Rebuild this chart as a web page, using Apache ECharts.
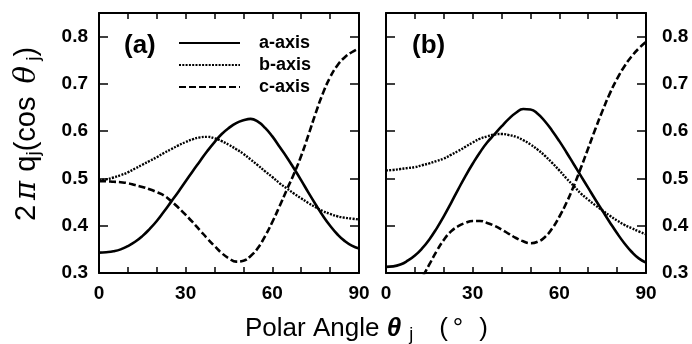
<!DOCTYPE html>
<html>
<head>
<meta charset="utf-8">
<script src="https://cdn.jsdelivr.net/npm/echarts@6/dist/echarts.min.js"></script>
<style>
  body { margin: 0; padding: 0; background: #fff; }
  #chart { width: 692px; height: 344px; }
</style>
</head>
<body>
<div id="chart"></div>
<script>
  // polar angle (deg)
  const theta = [0, 2.5, 5, 7.5, 10, 12.5, 15, 17.5, 20, 22.5, 25, 27.5, 30, 32.5, 35, 37.5, 40, 42.5, 45,
                 47.5, 50, 52.5, 55, 57.5, 60, 62.5, 65, 67.5, 70, 72.5, 75, 77.5, 80, 82.5, 85, 87.5, 90];

  // panel (a)
  const aAxisA = [0.343, 0.344, 0.346, 0.35, 0.357, 0.366, 0.378, 0.393, 0.41, 0.43, 0.451, 0.472, 0.494, 0.516, 0.537, 0.558, 0.577, 0.594, 0.607,
                  0.617, 0.623, 0.626, 0.62, 0.607, 0.589, 0.567, 0.545, 0.521, 0.496, 0.47, 0.445, 0.421, 0.4, 0.382, 0.368, 0.358, 0.352];
  const bAxisA = [0.496, 0.498, 0.502, 0.507, 0.513, 0.521, 0.529, 0.537, 0.545, 0.554, 0.562, 0.57, 0.577, 0.583, 0.587, 0.588, 0.585, 0.579, 0.571,
                  0.562, 0.552, 0.54, 0.528, 0.515, 0.503, 0.49, 0.479, 0.468, 0.458, 0.448, 0.439, 0.431, 0.425, 0.42, 0.417, 0.415, 0.413];
  const cAxisA = [0.494, 0.494, 0.493, 0.492, 0.49, 0.486, 0.482, 0.477, 0.471, 0.464, 0.452, 0.438, 0.423, 0.407, 0.39, 0.373, 0.357, 0.342, 0.331,
                  0.324, 0.326, 0.336, 0.353, 0.378, 0.408, 0.441, 0.476, 0.51, 0.548, 0.592, 0.638, 0.68, 0.714, 0.739, 0.756, 0.767, 0.775];

  // panel (b)
  const aAxisB = [0.313, 0.314, 0.318, 0.326, 0.337, 0.352, 0.371, 0.394, 0.42, 0.448, 0.477, 0.505, 0.531, 0.555, 0.576, 0.593, 0.61, 0.626, 0.639,
                  0.647, 0.646, 0.637, 0.621, 0.601, 0.579, 0.555, 0.53, 0.505, 0.48, 0.455, 0.431, 0.407, 0.384, 0.363, 0.345, 0.331, 0.322];
  const bAxisB = [0.517, 0.518, 0.52, 0.522, 0.524, 0.528, 0.532, 0.537, 0.542, 0.55, 0.558, 0.567, 0.576, 0.584, 0.589, 0.593, 0.594, 0.592, 0.588,
                  0.581, 0.572, 0.561, 0.548, 0.533, 0.517, 0.5, 0.484, 0.468, 0.455, 0.443, 0.432, 0.421, 0.411, 0.402, 0.395, 0.388, 0.382];
  const cAxisB = [0.17, 0.19, 0.21, 0.235, 0.262, 0.29, 0.318, 0.346, 0.37, 0.388, 0.399, 0.406, 0.41, 0.41, 0.406, 0.4, 0.392, 0.383, 0.374,
                  0.367, 0.363, 0.366, 0.376, 0.394, 0.419, 0.449, 0.484, 0.523, 0.564, 0.605, 0.644, 0.68, 0.711, 0.737, 0.758, 0.775, 0.789];

  const xTickLabels = [0, 30, 60, 90];
  const yTickLabels = [0.3, 0.4, 0.5, 0.6, 0.7, 0.8];

  const FONT = '"Liberation Sans", Arial, sans-serif';
  const pairs = ys => theta.map((t, i) => [t, ys[i]]);

  const lineStyles = {
    'a-axis': { type: 'solid', width: 2.6 },
    'b-axis': { type: [2, 1.3], width: 2.4 },
    'c-axis': { type: [7, 3], width: 2.6 }
  };

  function xAxisFor(grid, pos, showLabel) {
    return {
      type: 'value', gridIndex: grid, position: pos, min: 0, max: 90, interval: 10,
      axisLine: { show: true, onZero: false, lineStyle: { color: '#000', width: 2 } },
      axisTick: { show: true, inside: true, length: 6, lineStyle: { color: '#000', width: 1.5 } },
      axisLabel: {
        show: showLabel, margin: 11, color: '#000', fontSize: 19, fontWeight: 'bold', fontFamily: FONT,
        formatter: v => xTickLabels.includes(v) ? String(v) : ''
      },
      splitLine: { show: false }
    };
  }

  function yAxisFor(grid, pos, showLabel, margin) {
    return {
      type: 'value', gridIndex: grid, position: pos, min: 0.3, max: 0.85, interval: 0.1,
      axisLine: { show: true, onZero: false, lineStyle: { color: '#000', width: 2 } },
      axisTick: { show: true, inside: true, length: 9, lineStyle: { color: '#000', width: 1.5 } },
      axisLabel: {
        show: showLabel, margin: margin, color: '#000', fontSize: 19, fontWeight: 'bold', fontFamily: FONT,
        formatter: v => {
          const hit = yTickLabels.find(t => Math.abs(t - v) < 1e-6);
          return hit !== undefined ? hit.toFixed(1) : '';
        }
      },
      splitLine: { show: false }
    };
  }

  function line(name, ys, xi, yi) {
    return {
      name: name, type: 'line', xAxisIndex: xi, yAxisIndex: yi,
      data: pairs(ys), smooth: true, symbol: 'none', clip: true,
      lineStyle: Object.assign({ color: '#000' }, lineStyles[name]),
      itemStyle: { color: '#000' }
    };
  }

  const chart = echarts.init(document.getElementById('chart'), null, { renderer: 'canvas' });

  chart.setOption({
    animation: false,
    backgroundColor: '#fff',
    grid: [
      { left: 99, top: 13, width: 260, height: 260 },
      { left: 386, top: 13, width: 260, height: 260 }
    ],
    xAxis: [
      xAxisFor(0, 'bottom', true), xAxisFor(0, 'top', false),
      xAxisFor(1, 'bottom', true), xAxisFor(1, 'top', false)
    ],
    yAxis: [
      yAxisFor(0, 'left', true, 11), yAxisFor(0, 'right', false, 6),
      yAxisFor(1, 'left', false, 6), yAxisFor(1, 'right', true, 16)
    ],
    legend: {
      orient: 'vertical', left: 178, top: 34, padding: 0,
      itemWidth: 61, itemHeight: 14, itemGap: 4,
      data: ['a-axis', 'b-axis', 'c-axis'],
      itemStyle: { opacity: 0 },
      textStyle: { color: '#000', fontSize: 18, fontWeight: 'bold', fontFamily: FONT, padding: [0, 0, 0, 14] }
    },
    graphic: [
      { type: 'text', x: 124, y: 46,
        style: { text: '(a)', font: 'bold 26px ' + FONT, fill: '#000', align: 'left', verticalAlign: 'middle' } },
      { type: 'text', x: 412, y: 46,
        style: { text: '(b)', font: 'bold 26px ' + FONT, fill: '#000', align: 'left', verticalAlign: 'middle' } },
      { type: 'text', x: 245, y: 329,
        style: {
          text: '{r|Polar Angle }{t|θ}{s|j}{r|(}{d|°}{r|)}',
          align: 'left', verticalAlign: 'middle', fill: '#000',
          rich: {
            r: { fontSize: 26, fontFamily: FONT, fill: '#000' },
            t: { fontSize: 26, fontFamily: FONT, fontWeight: 'bold', fontStyle: 'italic', fill: '#000', padding: [0, 8, 0, 0] },
            s: { fontSize: 18, fontFamily: FONT, fill: '#000', padding: [12, 26, 0, 0] },
            d: { fontSize: 26, fontFamily: FONT, fill: '#000', padding: [0, 16, 0, 5] }
          }
        } },
      { type: 'text', x: 27, y: 134, rotation: Math.PI / 2,
        style: {
          text: '{r|2}{p|π }{r|q}{s|j}{r|(cos }{p|θ}{s| j}{r|)}',
          align: 'center', verticalAlign: 'middle', fill: '#000',
          rich: {
            r: { fontSize: 29, fontFamily: FONT, fill: '#000' },
            p: { fontSize: 29, fontFamily: '"DejaVu Serif", serif', fontStyle: 'italic', fill: '#000', padding: [0, 0, 0, 5] },
            s: { fontSize: 19, fontFamily: FONT, fill: '#000', padding: [14, 0, 0, 0] }
          }
        } }
    ],
    series: [
      line('a-axis', aAxisA, 0, 0),
      line('b-axis', bAxisA, 0, 0),
      line('c-axis', cAxisA, 0, 0),
      line('a-axis', aAxisB, 2, 2),
      line('b-axis', bAxisB, 2, 2),
      line('c-axis', cAxisB, 2, 2)
    ]
  });
</script>
</body>
</html>
